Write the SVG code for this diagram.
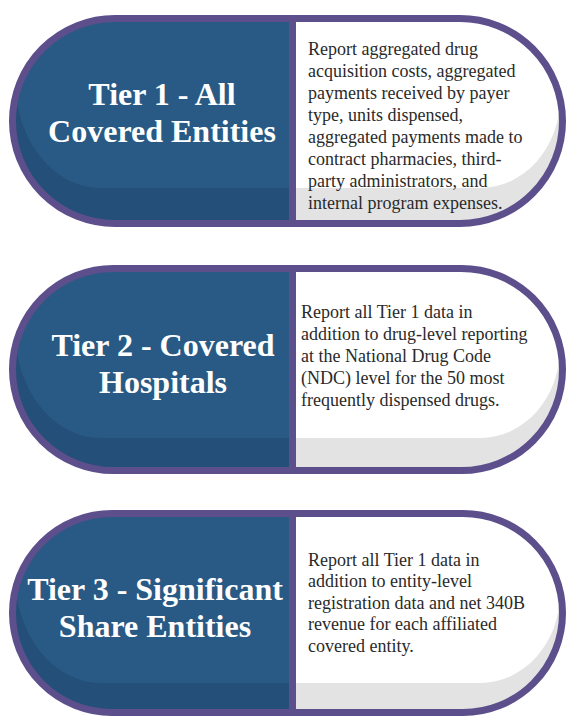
<svg xmlns="http://www.w3.org/2000/svg" width="567" height="717" viewBox="0 0 567 717">
  <style>
    .title { font-family: "Liberation Serif", "Times New Roman", serif; font-weight: bold; font-size: 32px; fill: #ffffff; text-anchor: middle; }
    .body { font-family: "Liberation Serif", "Times New Roman", serif; font-size: 18px; fill: #2a2a2a; }
    .rim { fill: none; stroke: #5c4f8c; stroke-width: 7; }
    .divider { fill: #5c4f8c; }
    .shadeL { fill: #234f78; }
    .shadeR { fill: #e3e3e3; }
    .hiL { fill: #285a85; }
    .hiR { fill: #ffffff; }
  </style>
  <defs>
    <clipPath id="in1"><rect x="12.5" y="18.5" width="550" height="205" rx="102.5"/></clipPath>
    <clipPath id="in2"><rect x="12.5" y="268.5" width="550" height="202" rx="101"/></clipPath>
    <clipPath id="in3"><rect x="12.5" y="513.5" width="550" height="199" rx="99.5"/></clipPath>
    <clipPath id="leftHalf"><rect x="0" y="0" width="292.5" height="717"/></clipPath>
    <clipPath id="rightHalf"><rect x="292.5" y="0" width="274.5" height="717"/></clipPath>
  </defs>

  <!-- Tier 1 -->
  <g id="tier1">
    <g clip-path="url(#in1)">
      <rect class="shadeL" x="0" y="0" width="292.5" height="240"/>
      <rect class="shadeR" x="292.5" y="0" width="274.5" height="240"/>
      <path class="hiL" clip-path="url(#leftHalf)" d="M0,0 L0,80 L15,80 A85 108 0 0 0 100,188 L480,188 A80 90 0 0 0 560,98 L570,98 L570,0 Z"/>
      <path class="hiR" clip-path="url(#rightHalf)" d="M0,0 L0,80 L15,80 A85 108 0 0 0 100,188 L480,188 A80 90 0 0 0 560,98 L570,98 L570,0 Z"/>
    </g>
    <rect class="divider" x="289" y="18" width="7" height="206"/>
    <rect class="rim" x="12.5" y="18.5" width="550" height="205" rx="102.5"/>
    <text class="title" x="162" y="105">Tier 1 - All</text>
    <text class="title" x="162" y="142">Covered Entities</text>
    <text class="body" x="308">
      <tspan x="308" y="55">Report aggregated drug</tspan>
      <tspan x="308" y="77">acquisition costs, aggregated</tspan>
      <tspan x="308" y="99">payments received by payer</tspan>
      <tspan x="308" y="121">type, units dispensed,</tspan>
      <tspan x="308" y="143">aggregated payments made to</tspan>
      <tspan x="308" y="165">contract pharmacies, third-</tspan>
      <tspan x="308" y="187">party administrators, and</tspan>
      <tspan x="308" y="209">internal program expenses.</tspan>
    </text>
  </g>

  <!-- Tier 2 -->
  <g id="tier2">
    <g clip-path="url(#in2)">
      <rect class="shadeL" x="0" y="250" width="292.5" height="240"/>
      <rect class="shadeR" x="292.5" y="250" width="274.5" height="240"/>
      <path class="hiL" clip-path="url(#leftHalf)" d="M0,250 L0,330 L15,330 A85 108 0 0 0 100,438 L480,438 A80 90 0 0 0 560,348 L570,348 L570,250 Z"/>
      <path class="hiR" clip-path="url(#rightHalf)" d="M0,250 L0,330 L15,330 A85 108 0 0 0 100,438 L480,438 A80 90 0 0 0 560,348 L570,348 L570,250 Z"/>
    </g>
    <rect class="divider" x="289" y="268" width="7" height="203"/>
    <rect class="rim" x="12.5" y="268.5" width="550" height="202" rx="101"/>
    <text class="title" x="163" y="356">Tier 2 - Covered</text>
    <text class="title" x="163" y="393">Hospitals</text>
    <text class="body">
      <tspan x="301" y="318">Report all Tier 1 data in</tspan>
      <tspan x="301" y="340">addition to drug-level reporting</tspan>
      <tspan x="301" y="362">at the National Drug Code</tspan>
      <tspan x="301" y="384">(NDC) level for the 50 most</tspan>
      <tspan x="301" y="406">frequently dispensed drugs.</tspan>
    </text>
  </g>

  <!-- Tier 3 -->
  <g id="tier3">
    <g clip-path="url(#in3)">
      <rect class="shadeL" x="0" y="495" width="292.5" height="222"/>
      <rect class="shadeR" x="292.5" y="495" width="274.5" height="222"/>
      <path class="hiL" clip-path="url(#leftHalf)" d="M0,495 L0,575 L15,575 A85 108 0 0 0 100,683 L480,683 A80 90 0 0 0 560,593 L570,593 L570,495 Z"/>
      <path class="hiR" clip-path="url(#rightHalf)" d="M0,495 L0,575 L15,575 A85 108 0 0 0 100,683 L480,683 A80 90 0 0 0 560,593 L570,593 L570,495 Z"/>
    </g>
    <rect class="divider" x="289" y="513" width="7" height="200"/>
    <rect class="rim" x="12.5" y="513.5" width="550" height="199" rx="99.5"/>
    <text class="title" x="155" y="600">Tier 3 - Significant</text>
    <text class="title" x="155" y="637">Share Entities</text>
    <text class="body">
      <tspan x="308" y="566">Report all Tier 1 data in</tspan>
      <tspan x="308" y="587">addition to entity-level</tspan>
      <tspan x="308" y="609">registration data and net 340B</tspan>
      <tspan x="308" y="630">revenue for each affiliated</tspan>
      <tspan x="308" y="652">covered entity.</tspan>
    </text>
  </g>
</svg>
